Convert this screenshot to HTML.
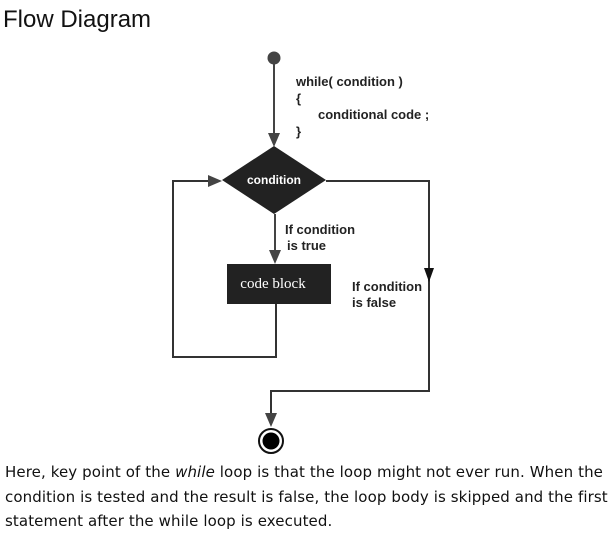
<!DOCTYPE html>
<html><head><meta charset="utf-8"><style>
body{margin:0;width:608px;height:540px;background:#fff;position:relative;overflow:hidden}
.t{position:absolute;left:3px;top:6px;font:24px "Liberation Sans",sans-serif;color:#111}
.p{position:absolute;left:5px;top:460px;width:610px;font:15px "DejaVu Sans",sans-serif;line-height:24.5px;color:#111;letter-spacing:0.1px}
svg{position:absolute;left:0;top:0}
</style></head><body>
<div class="t">Flow Diagram</div>
<svg width="608" height="460" viewBox="0 0 608 460">
<g font-family="Liberation Sans, sans-serif" font-weight="bold" font-size="13" fill="#222">
<circle cx="274" cy="58" r="6.5" fill="#444"/>
<line x1="274" y1="60" x2="274" y2="135" stroke="#444" stroke-width="2"/>
<polygon points="268,133 280,133 274,147" fill="#444"/>
<polygon points="274,146 326,180 274,214 222,180" fill="#222"/>
<text x="274" y="184" fill="#fff" text-anchor="middle" font-size="12">condition</text>
<text x="296" y="86">while( condition )</text>
<text x="296" y="103">{</text>
<text x="318" y="119">conditional code ;</text>
<text x="296" y="136">}</text>
<line x1="275" y1="214" x2="275" y2="252" stroke="#444" stroke-width="2"/>
<polygon points="269,250 281,250 275,264" fill="#444"/>
<text x="285" y="234">If condition</text>
<text x="287" y="250">is true</text>
<rect x="227" y="264" width="104" height="40" fill="#222"/>
<text x="273" y="288" fill="#fff" text-anchor="middle" font-family="Liberation Serif, serif" font-weight="normal" font-size="15">code block</text>
<polyline points="276,304 276,357 173,357 173,181 212,181" fill="none" stroke="#333" stroke-width="2"/>
<polygon points="208,175 208,187 222,181" fill="#444"/>
<polyline points="326,181 429,181 429,391 271,391 271,414" fill="none" stroke="#333" stroke-width="2"/>
<polygon points="424,268 434,268 429,282" fill="#111"/>
<text x="352" y="291">If condition</text>
<text x="352" y="307">is false</text>
<polygon points="265,413 277,413 271,427" fill="#444"/>
<circle cx="271" cy="441" r="12" fill="#fff" stroke="#111" stroke-width="2"/>
<circle cx="271" cy="441" r="8.5" fill="#000"/>
</g>
</svg>
<div class="p">Here, key point of the <i>while</i> loop is that the loop might not ever run. When the condition is tested and the result is false, the loop body is skipped and the first statement after the while loop is executed.</div>
</body></html>
